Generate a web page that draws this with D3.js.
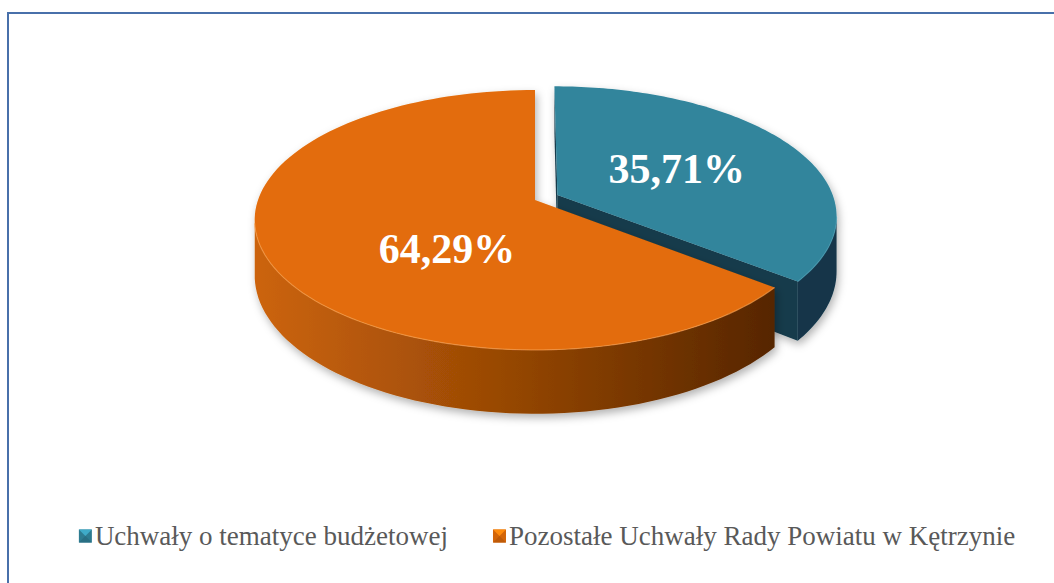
<!DOCTYPE html>
<html>
<head>
<meta charset="utf-8">
<script src="https://cdn.jsdelivr.net/npm/d3@7"></script>
<style>
  html, body { margin: 0; padding: 0; background: #fff; }
  #chart { width: 1054px; height: 583px; overflow: hidden; }
</style>
</head>
<body>
<div id="chart"></div>
<script>
const categories = ['Uchwały o tematyce budżetowej', 'Pozostałe Uchwały Rady Powiatu w Kętrzynie'];
const values = [35.71, 64.29];
const valueLabels = ['35,71%', '64,29%'];

const W = 1054, H = 583;
const topColor  = d3.scaleOrdinal().domain(categories).range(['#31859C', '#E36C09']);
const sideColor = d3.scaleOrdinal().domain(categories).range(['#12364A', 'url(#orangeSide)']);
const faceColor = d3.scaleOrdinal().domain(categories).range(['#143A4B', '#5a2800']);
const rimColor  = d3.scaleOrdinal().domain(categories).range(['#4a9bb2', '#f59a4a']);

// simple perspective camera for the tilted pie
const cam = { cx: 535, cy: 200, R: 277, depth: 54, D: 1800, k: 0.458 };
const explode = 25;

function project(p, drop = 0) {
  const s = cam.D / (cam.D + p[1]);
  return [cam.cx + p[0] * s, cam.cy + (-p[1] * cam.k + drop) * s];
}
function rim(a, r, off) {
  return [off[0] + r * Math.sin(a), off[1] + r * Math.cos(a)];
}
// is a face with outward normal n at point p turned to the camera?
function facing(n, p) {
  return n[0] * (-p[0]) + n[1] * (-cam.D - p[1]) > 0;
}

const svg = d3.select('#chart').append('svg')
  .attr('width', W).attr('height', H);

const defs = svg.append('defs');
const grad = defs.append('linearGradient')
  .attr('id', 'orangeSide')
  .attr('gradientUnits', 'userSpaceOnUse')
  .attr('x1', 255).attr('x2', 780).attr('y1', 0).attr('y2', 0);
grad.append('stop').attr('offset', 0).attr('stop-color', '#CC640C');
grad.append('stop').attr('offset', 0.45).attr('stop-color', '#9A4905');
grad.append('stop').attr('offset', 1).attr('stop-color', '#552500');

const shadow = defs.append('filter').attr('id', 'shadow')
  .attr('x', '-10%').attr('y', '-10%').attr('width', '120%').attr('height', '130%');
shadow.append('feDropShadow')
  .attr('dx', 2).attr('dy', 4).attr('stdDeviation', 4)
  .attr('flood-color', '#000').attr('flood-opacity', 0.3);

// chart border
svg.append('rect')
  .attr('x', 8).attr('y', 13)
  .attr('width', W + 20).attr('height', H + 20)
  .attr('fill', 'none')
  .attr('stroke', '#4870AA')
  .attr('stroke-width', 2);

const arcs = d3.pie().sort(null).value(d => d)(values);
const line = d3.line();
const steps = 120;

const pieG = svg.append('g');

arcs.forEach((d, i) => {
  const cat = categories[i];
  const a0 = d.startAngle, a1 = d.endAngle;
  const mid = (a0 + a1) / 2;
  const off = i === 0 ? [explode * Math.sin(mid), explode * Math.cos(mid)] : [0, 0];
  const g = pieG.append('g').attr('filter', 'url(#shadow)');

  // radial cut faces
  [[a0, [-Math.cos(a0), Math.sin(a0)]], [a1, [Math.cos(a1), -Math.sin(a1)]]].forEach(([a, n]) => {
    if (!facing(n, off)) return;
    const e = rim(a, cam.R, off);
    g.append('path')
      .attr('d', line([project(off), project(e), project(e, cam.depth), project(off, cam.depth)]) + 'Z')
      .attr('fill', faceColor(cat));
  });

  // outer curved side, visible part only
  const vis = [];
  for (let j = 0; j <= steps; j++) {
    const a = a0 + (a1 - a0) * j / steps;
    const p = rim(a, cam.R, off);
    if (facing([Math.sin(a), Math.cos(a)], p)) vis.push(p);
  }
  if (vis.length > 1) {
    const pts = vis.map(p => project(p)).concat(vis.slice().reverse().map(p => project(p, cam.depth)));
    g.append('path').attr('d', line(pts) + 'Z').attr('fill', sideColor(cat));
  }

  // top face
  const top = [project(off)];
  for (let j = 0; j <= steps; j++) {
    top.push(project(rim(a0 + (a1 - a0) * j / steps, cam.R, off)));
  }
  g.append('path').attr('d', line(top) + 'Z').attr('fill', topColor(cat));

  // light edge along the front rim
  if (vis.length > 1) {
    g.append('path')
      .attr('d', line(vis.map(p => project(p))))
      .attr('fill', 'none')
      .attr('stroke', rimColor(cat))
      .attr('stroke-width', 1.2)
      .attr('opacity', 0.7);
  }
});

// value labels
const labelNudge = [[0, 0], [41, 20]];
arcs.forEach((d, i) => {
  const mid = (d.startAngle + d.endAngle) / 2;
  const off = i === 0 ? [explode * Math.sin(mid), explode * Math.cos(mid)] : [0, 0];
  const p = project(rim(mid, cam.R * 0.5, off));
  svg.append('text')
    .attr('x', p[0] + labelNudge[i][0])
    .attr('y', p[1] + labelNudge[i][1])
    .attr('dy', '0.35em')
    .attr('text-anchor', 'middle')
    .attr('fill', '#fff')
    .attr('font-family', '"Liberation Serif", "Times New Roman", serif')
    .attr('font-weight', 700)
    .attr('font-size', 42)
    .text(valueLabels[i]);
});

// legend
const legend = svg.append('g');
const mk = 13, gapText = 3, gapItem = 45, legendY = 536, legendCx = 547;
const items = categories.map((c, i) => {
  const it = legend.append('g');
  const t = it.append('text')
    .attr('x', mk + gapText)
    .attr('y', 0)
    .attr('dy', '0.35em')
    .attr('fill', '#595959')
    .attr('font-family', '"Liberation Serif", "Times New Roman", serif')
    .attr('font-size', 27)
    .text(c);
  const base = d3.color(topColor(c));
  it.append('rect').attr('x', 0).attr('y', -mk / 2).attr('width', mk).attr('height', mk)
    .attr('fill', base.darker(0.2));
  it.append('path')
    .attr('d', line([[0, -mk / 2], [mk, -mk / 2], [mk / 2, 0]]) + 'Z')
    .attr('fill', base.brighter(0.7));
  it.append('path')
    .attr('d', line([[0, mk / 2], [mk, mk / 2], [mk / 2, 0]]) + 'Z')
    .attr('fill', base.darker(0.5));
  return { g: it, w: mk + gapText + t.node().getComputedTextLength() };
});
const total = d3.sum(items, d => d.w) + gapItem * (items.length - 1);
let x0 = legendCx - total / 2;
items.forEach(it => {
  it.g.attr('transform', `translate(${x0},${legendY})`);
  x0 += it.w + gapItem;
});
</script>
</body>
</html>
